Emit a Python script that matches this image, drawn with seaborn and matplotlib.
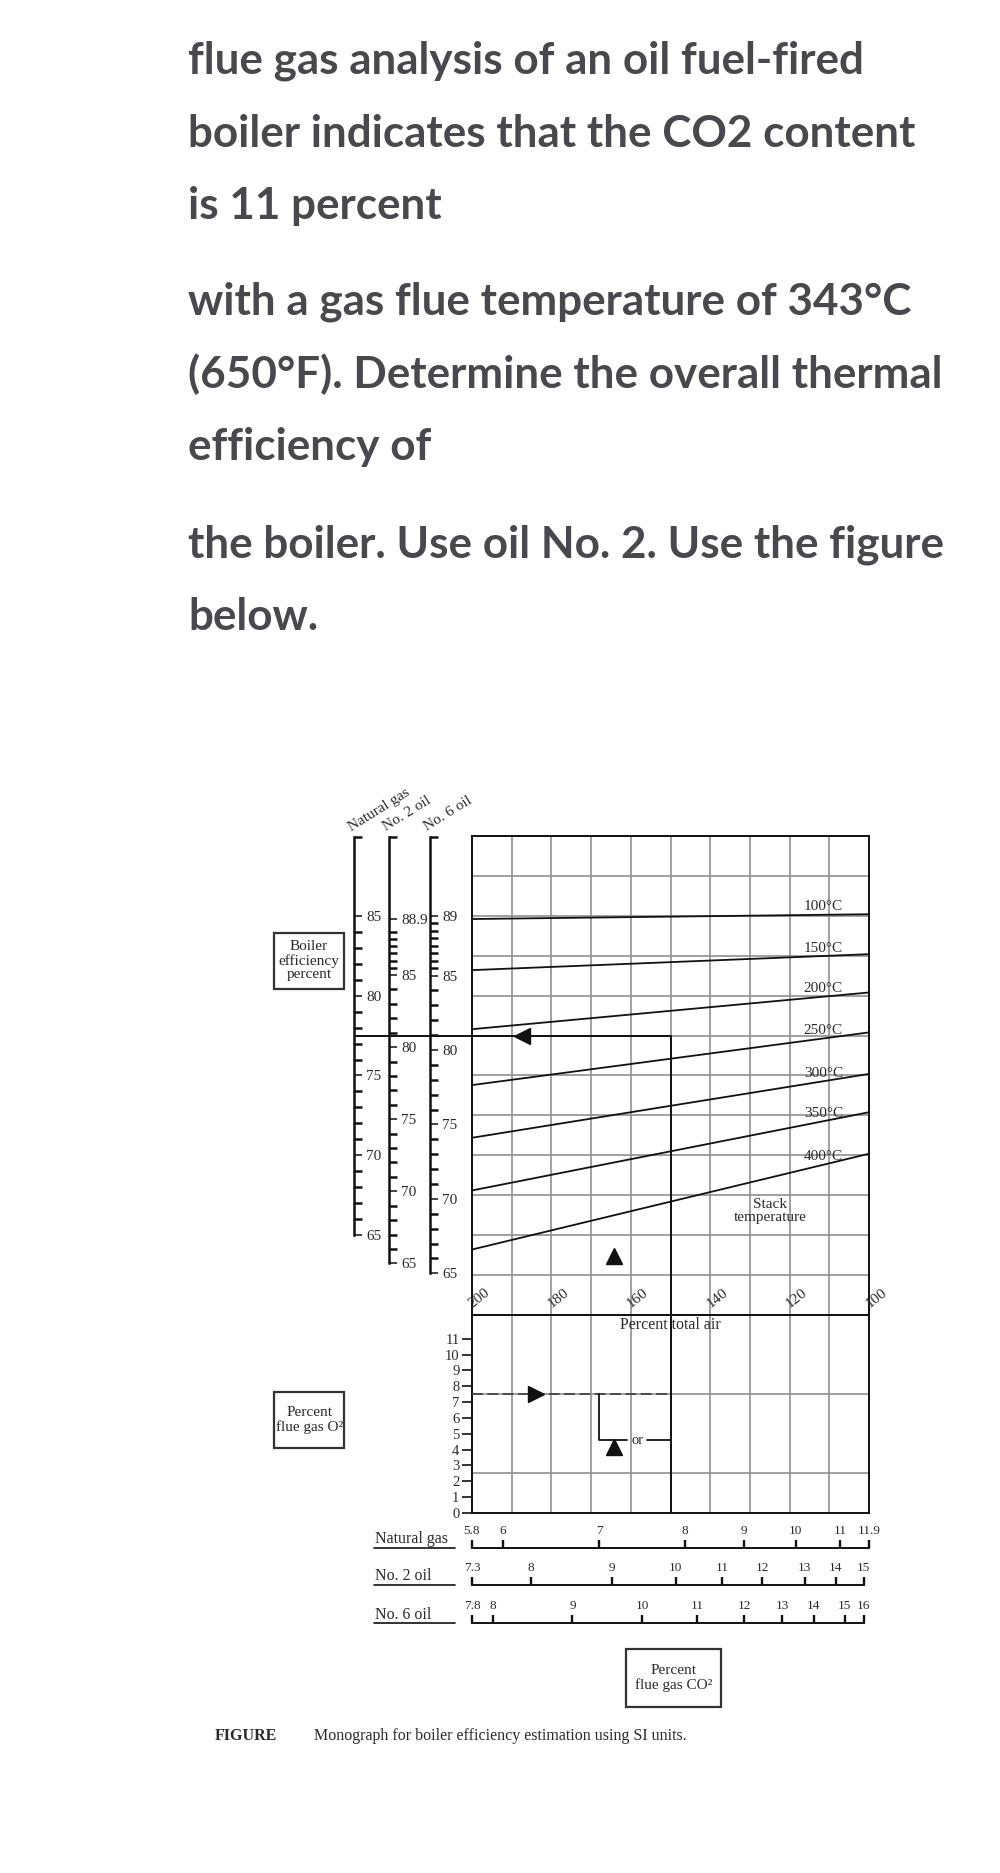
import numpy as np
import pandas as pd
import matplotlib
matplotlib.use("Agg")
import matplotlib.pyplot as plt
from matplotlib.patches import Rectangle
import seaborn as sns

# ---------------- DATA ----------------
question_lines = [
    "flue gas analysis of an oil fuel-fired",
    "boiler indicates that the CO2 content",
    "is 11 percent",
    "with a gas flue temperature of 343°C",
    "(650°F). Determine the overall thermal",
    "efficiency of",
    "the boiler. Use oil No. 2. Use the figure",
    "below.",
]

# stack temperature lines: efficiency (natural-gas scale) at 200 % and 100 % total air
stack_temps = [100, 150, 200, 250, 300, 350, 400]
stack_eff_air200 = [84.8, 81.6, 77.9, 74.4, 71.1, 67.8, 64.1]
stack_eff_air100 = [85.1, 82.6, 80.2, 77.7, 75.1, 72.7, 70.1]

air_tick_values = [200, 180, 160, 140, 120, 100]

ng_eff_major = [65, 70, 75, 80, 85]
ng_eff_minor = [66, 67, 68, 69, 71, 72, 73, 74, 76, 77, 78, 79, 81, 82, 83, 84]
no2_eff_major = [65, 70, 75, 80, 85, 88.9]
no2_eff_minor = [66, 67, 68, 69, 71, 72, 73, 74, 76, 77, 78, 79, 81, 82, 83, 84,
                 85.5, 86, 86.5, 87, 87.5, 88]
no6_eff_major = [65, 70, 75, 80, 85, 89]
no6_eff_minor = [66, 67, 68, 69, 71, 72, 73, 74, 76, 77, 78, 79, 81, 82, 83, 84,
                 85.5, 86, 86.5, 87, 87.5, 88, 88.5]

o2_ticks = [0, 1, 2, 3, 4, 5, 6, 7, 8, 9, 10, 11]

co2_ng_labels = ["5.8", "6", "7", "8", "9", "10", "11", "11.9"]
co2_ng_air = [200, 192.2, 167.9, 146.4, 131.4, 118.5, 107.2, 100]
co2_no2_labels = ["7.3", "8", "9", "10", "11", "12", "13", "14", "15"]
co2_no2_air = [200, 185.1, 164.8, 148.7, 137.0, 126.9, 116.2, 108.4, 101.3]
co2_no6_labels = ["7.8", "8", "9", "10", "11", "12", "13", "14", "15", "16"]
co2_no6_air = [200, 194.7, 174.7, 157.1, 143.2, 131.4, 121.8, 113.9, 106.1, 101.3]

# worked example path
example_eff = 77.5        # natural gas efficiency equivalent
example_air = 150         # percent total air
example_o2 = 7.5          # percent O2
alt_o2 = 4.6
alt_air = 167.9
marker_left = (187.4, 77.5)
marker_up_upper = (164.2, 63.7)
marker_right = (183.8, 7.5)
marker_up_lower = (164.2, 4.15)

# ---------------- STYLE ----------------
sns.set_style("white")
plt.rcParams["font.family"] = ["Liberation Serif", "DejaVu Serif"]
TXT = "#2a2a2a"
LINE = "#111111"
GRID = "#909090"
plt.rcParams["text.color"] = TXT
plt.rcParams["xtick.color"] = LINE
plt.rcParams["ytick.color"] = LINE
plt.rcParams["xtick.labelcolor"] = TXT
plt.rcParams["ytick.labelcolor"] = TXT

W, H = 1000, 1873
fig = plt.figure(figsize=(W / 100, H / 100), dpi=100)
fig.patch.set_facecolor("white")


def px_axes(x0, y0, x1, y1, z=1):
    ax = fig.add_axes([x0 / W, 1 - y1 / H, (x1 - x0) / W, (y1 - y0) / H], zorder=z)
    return ax


canvas = px_axes(0, 0, W, H, z=0)
canvas.set_xlim(0, W)
canvas.set_ylim(H, 0)
canvas.axis("off")

# ---------------- question text ----------------
baselines = [73.3, 147.4, 219.1, 314.6, 387.6, 460.4, 557.2, 630.1]
para_font = ["Liberation Sans Narrow", "Lato", "DejaVu Sans"]
qtexts = []
for line, yb in zip(question_lines, baselines):
    qtexts.append(canvas.text(188, yb, line, fontsize=30, fontweight="bold",
                              family=para_font, color="#48484e",
                              ha="left", va="baseline"))
renderer = fig.canvas.get_renderer()
wref = qtexts[4].get_window_extent(renderer).width
scale = 755.0 / wref
for t in qtexts:
    t.set_fontsize(30 * scale)

# ---------------- main grid ----------------
GX0, GX1 = 472, 869
ax_up = px_axes(GX0, 836, GX1, 1315, z=2)
ax_lo = px_axes(GX0, 1315, GX1, 1513, z=2)

df_stack = pd.DataFrame({
    "temp": stack_temps * 2,
    "air": [200] * len(stack_temps) + [100] * len(stack_temps),
    "eff": stack_eff_air200 + stack_eff_air100,
})
sns.lineplot(data=df_stack, x="air", y="eff", units="temp", estimator=None,
             color=LINE, lw=1.3, ax=ax_up, legend=False, zorder=3)

for ax, ylim, step in ((ax_up, (60, 90), 2.5), (ax_lo, (0, 12.5), 2.5)):
    ax.set_xlim(200, 100)
    ax.set_ylim(*ylim)
    ax.set_xlabel("")
    ax.set_ylabel("")
    ax.set_xticks([])
    ax.set_xticks(np.arange(100, 201, 10), minor=True)
    ax.set_yticks(np.arange(ylim[0], ylim[1] + 0.01, step), minor=True)
    ax.grid(False)
    ax.grid(True, which="minor", color=GRID, lw=1.2)
    ax.set_axisbelow(True)
    ax.tick_params(axis="x", which="both", length=0, labelbottom=False)
    ax.tick_params(axis="y", which="minor", length=0)
    for s in ax.spines.values():
        s.set_visible(True)
        s.set_color(LINE)
        s.set_linewidth(1.4)

ax_up.set_yticks([])
ax_up.tick_params(axis="y", which="both", length=0, labelleft=False)

ax_lo.set_yticks(o2_ticks)
ax_lo.set_yticklabels([str(v) for v in o2_ticks])
ax_lo.tick_params(axis="y", which="major", direction="out", length=7, width=1.2,
                  labelsize=10.5, pad=2, left=True)

# temperature labels
for t, e200, e100 in zip(stack_temps, stack_eff_air200, stack_eff_air100):
    e_at = np.interp(111.5, [100, 200], [e100, e200])
    ax_up.annotate(f"{t}°C", xy=(111.5, e_at), xytext=(0, 1.0),
                   textcoords="offset points", ha="center", va="bottom",
                   fontsize=11, zorder=1)

ax_up.text(124.9, 66.5, "Stack\ntemperature", ha="center", va="center",
           linespacing=1.05, fontsize=11)

for v in air_tick_values:
    ax_up.annotate(str(v), xy=(v, 60), xytext=(1.5, 3), textcoords="offset points",
                   rotation=38, rotation_mode="anchor", ha="left", va="bottom",
                   fontsize=11, annotation_clip=False)

ax_lo.text(150, 11.85, "Percent total air", ha="center", va="center", fontsize=11.5)

# worked example
ax_up.plot([200, example_air], [example_eff, example_eff], color=LINE, lw=1.4,
           clip_on=False, zorder=4)
ax_up.plot([example_air, example_air], [example_eff, 60], color=LINE, lw=1.4,
           clip_on=False, zorder=4)
ax_lo.plot([example_air, example_air], [12.5, 0], color=LINE, lw=1.4,
           clip_on=False, zorder=4)
ax_lo.plot([200, example_air], [example_o2, example_o2], color="#444444", lw=1.3,
           ls=(0, (6, 2.5)), zorder=4, clip_on=False)
ax_lo.plot([alt_air, alt_air, 161.0], [example_o2, alt_o2, alt_o2], color=LINE,
           lw=1.3, zorder=4)
ax_lo.plot([156.0, example_air], [alt_o2, alt_o2], color=LINE, lw=1.3, zorder=4)
ax_lo.text(158.4, alt_o2, "or", ha="center", va="center", fontsize=10.5)

ax_up.plot(*marker_left, marker="<", ms=12, color=LINE, zorder=5)
ax_up.plot(*marker_up_upper, marker="^", ms=12, color=LINE, zorder=5)
ax_lo.plot(*marker_right, marker=">", ms=12, color=LINE, zorder=5)
ax_lo.plot(*marker_up_lower, marker="^", ms=12, color=LINE, zorder=5)

# bridge carrying the example line across the efficiency scales
ax_br = px_axes(354, 836, GX0, 1315, z=1)
ax_br.set_ylim(60, 90)
ax_br.set_xlim(0, 1)
ax_br.axis("off")
ax_br.axhline(example_eff, color=LINE, lw=1.4)

# ---------------- efficiency scales ----------------
def eff_scale(x_spine, ylim, major, minor, title):
    ax = px_axes(x_spine, 836, x_spine + 8, 1315, z=3)
    ax.set_ylim(*ylim)
    ax.set_xlim(0, 1)
    ax.patch.set_visible(False)
    for s in ("top", "right", "bottom"):
        ax.spines[s].set_visible(False)
    top = ylim[1] - 0.05
    ax.spines["left"].set_visible(True)
    ax.spines["left"].set_color(LINE)
    ax.spines["left"].set_linewidth(1.8)
    ax.spines["left"].set_bounds(65, top)
    ax.set_xticks([])
    ax.set_yticks(major)
    ax.set_yticklabels([f"{v:g}" for v in major])
    ax.set_yticks(minor + [top], minor=True)
    ax.tick_params(axis="y", which="both", direction="in", left=True, right=False,
                   labelleft=False, labelright=True, pad=3, labelsize=11)
    ax.tick_params(axis="y", which="major", length=6, width=1.1)
    ax.tick_params(axis="y", which="minor", length=6, width=1.8)
    canvas.text(x_spine - 3, 831, title, rotation=32, rotation_mode="anchor",
                ha="left", va="baseline", fontsize=11)
    return ax


eff_scale(354, (60, 90), ng_eff_major, ng_eff_minor, "Natural gas")
eff_scale(389.3, (61.42, 94.64), no2_eff_major, no2_eff_minor, "No. 2 oil")
eff_scale(430, (62.2, 94.37), no6_eff_major, no6_eff_minor, "No. 6 oil")

# ---------------- CO2 scales ----------------
def co2_scale(y_line, air_pos, labels, name):
    ax = px_axes(GX0, y_line, GX1, y_line + 6, z=3)
    ax.set_xlim(200, 100)
    ax.set_ylim(0, 1)
    ax.patch.set_visible(False)
    for s in ("left", "right", "bottom"):
        ax.spines[s].set_visible(False)
    ax.spines["top"].set_visible(True)
    ax.spines["top"].set_color(LINE)
    ax.spines["top"].set_linewidth(1.4)
    ax.spines["top"].set_bounds(min(air_pos), max(air_pos))
    ax.set_yticks([])
    ax.xaxis.set_ticks_position("top")
    ax.set_xticks(air_pos)
    ax.set_xticklabels(labels)
    ax.tick_params(axis="x", direction="out", length=6, width=1.7, labelsize=9.5,
                   pad=2, top=True, bottom=False, labeltop=True, labelbottom=False)
    canvas.text(375, y_line - 4.5, name, fontsize=11.5, ha="left", va="baseline")
    canvas.plot([374, 455], [y_line, y_line], color=LINE, lw=1.2)
    return ax


co2_scale(1547.7, co2_ng_air, co2_ng_labels, "Natural gas")
co2_scale(1585, co2_no2_air, co2_no2_labels, "No. 2 oil")
co2_scale(1623.3, co2_no6_air, co2_no6_labels, "No. 6 oil")

# ---------------- boxes & captions ----------------
def box(x0, y0, x1, y1, text):
    canvas.add_patch(Rectangle((x0, y0), x1 - x0, y1 - y0, fill=False, lw=1.6,
                               ec="#333333"))
    canvas.text((x0 + x1) / 2, (y0 + y1) / 2, text, ha="center", va="center",
                fontsize=11, linespacing=1.05)


box(274, 932.7, 344, 989, "Boiler\nefficiency\npercent")
box(274, 1391.7, 344.3, 1448.3, "Percent\nflue gas O²")
box(625.7, 1649, 720.7, 1706.7, "Percent\nflue gas CO²")

canvas.text(215, 1740, "FIGURE", fontsize=11.5, fontweight="bold", ha="left",
            va="baseline")
canvas.text(314, 1740, "Monograph for boiler efficiency estimation using SI units.",
            fontsize=11.5, ha="left", va="baseline")

fig.savefig("out.png", dpi=100, facecolor="white")
